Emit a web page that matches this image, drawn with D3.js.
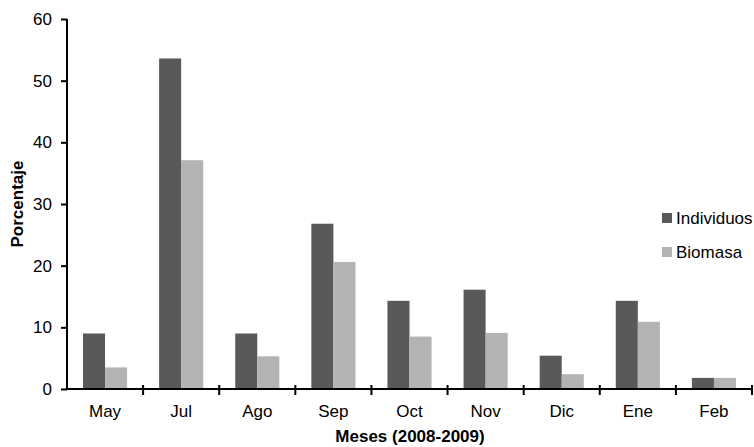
<!DOCTYPE html>
<html>
<head>
<meta charset="utf-8">
<script src="https://cdn.jsdelivr.net/npm/d3@7"></script>
<style>
  body { margin: 0; background: #fff; }
  text { font-family: "Liberation Sans", Arial, sans-serif; fill: #000; }
</style>
</head>
<body>
<svg id="chart" width="754" height="447"></svg>
<script>
const months = ["May", "Jul", "Ago", "Sep", "Oct", "Nov", "Dic", "Ene", "Feb"];
const individuos = [9.0, 53.6, 9.0, 26.8, 14.3, 16.1, 5.4, 14.3, 1.8];
const biomasa = [3.5, 37.1, 5.3, 20.6, 8.5, 9.1, 2.4, 10.9, 1.8];
const seriesNames = ["Individuos", "Biomasa"];
const yTicks = [0, 10, 20, 30, 40, 50, 60];

const svg = d3.select("svg#chart");

const plot = { left: 67, right: 752, top: 19, bottom: 389 };

const x = d3.scaleBand().domain(months).range([plot.left, plot.right]);
const x1 = d3.scaleBand().domain(seriesNames).range([16, x.bandwidth() - 16]);
const y = d3.scaleLinear().domain([0, 60]).range([plot.bottom, plot.top]);
const color = d3.scaleOrdinal().domain(seriesNames).range(["#595959", "#b3b3b3"]);

const rows = months.map((m, i) => ({ month: m, values: [individuos[i], biomasa[i]] }));

// bars
const groups = svg.append("g").selectAll("g")
  .data(rows)
  .enter()
  .append("g")
  .attr("transform", d => translate(x(d.month), 0));

groups.selectAll("rect")
  .data(d => d.values.map((v, j) => ({ key: seriesNames[j], value: v })))
  .enter()
  .append("rect")
  .attr("x", d => x1(d.key))
  .attr("width", x1.bandwidth())
  .attr("y", d => y(d.value))
  .attr("height", d => y(0) - y(d.value))
  .style("fill", d => color(d.key));

// y axis
const yAxis = svg.append("g")
  .attr("transform", translate(plot.left, 0))
  .call(d3.axisLeft(y).tickValues(yTicks).tickSize(6).tickPadding(9));
yAxis.select(".domain").attr("stroke-width", 2).attr("d", "M0," + plot.top + "V" + plot.bottom);
yAxis.selectAll(".tick line").attr("stroke-width", 2);
yAxis.selectAll("text").style("font-size", "17px").style("font-family", "Liberation Sans, Arial, sans-serif");

// x axis
const xAxis = svg.append("g")
  .attr("transform", translate(0, plot.bottom));
xAxis.append("line")
  .attr("x1", plot.left).attr("x2", plot.right)
  .attr("stroke", "#000").attr("stroke-width", 2);
xAxis.selectAll("line.tick")
  .data(months.slice(1).map(m => x(m)).concat([plot.right]))
  .enter()
  .append("line")
  .attr("class", "tick")
  .attr("x1", d => d).attr("x2", d => d)
  .attr("y1", -4).attr("y2", 6)
  .attr("stroke", "#000").attr("stroke-width", 2);
xAxis.selectAll("text")
  .data(months)
  .enter()
  .append("text")
  .attr("x", d => x(d) + x.bandwidth() / 2)
  .attr("y", 28)
  .attr("text-anchor", "middle")
  .style("font-size", "17px")
  .text(d => d);

// axis titles
svg.append("text")
  .attr("x", 410).attr("y", 442)
  .attr("text-anchor", "middle")
  .style("font-size", "17px").style("font-weight", "bold")
  .text("Meses (2008-2009)");

svg.append("text")
  .attr("transform", translate(23, 204) + " rotate(-90)")
  .attr("text-anchor", "middle")
  .style("font-size", "17px").style("font-weight", "bold")
  .text("Porcentaje");

// legend
const legend = svg.append("g").attr("transform", translate(662, 213));
const items = legend.selectAll("g")
  .data(seriesNames)
  .enter()
  .append("g")
  .attr("transform", (d, i) => translate(0, i * 34));
items.append("rect")
  .attr("width", 10).attr("height", 10)
  .style("fill", d => color(d));
items.append("text")
  .attr("x", 14).attr("y", 11)
  .style("font-size", "17px")
  .text(d => d);

function translate(x, y) {
  return "translate(" + String(x) + "," + String(y) + ")";
}
</script>
</body>
</html>
